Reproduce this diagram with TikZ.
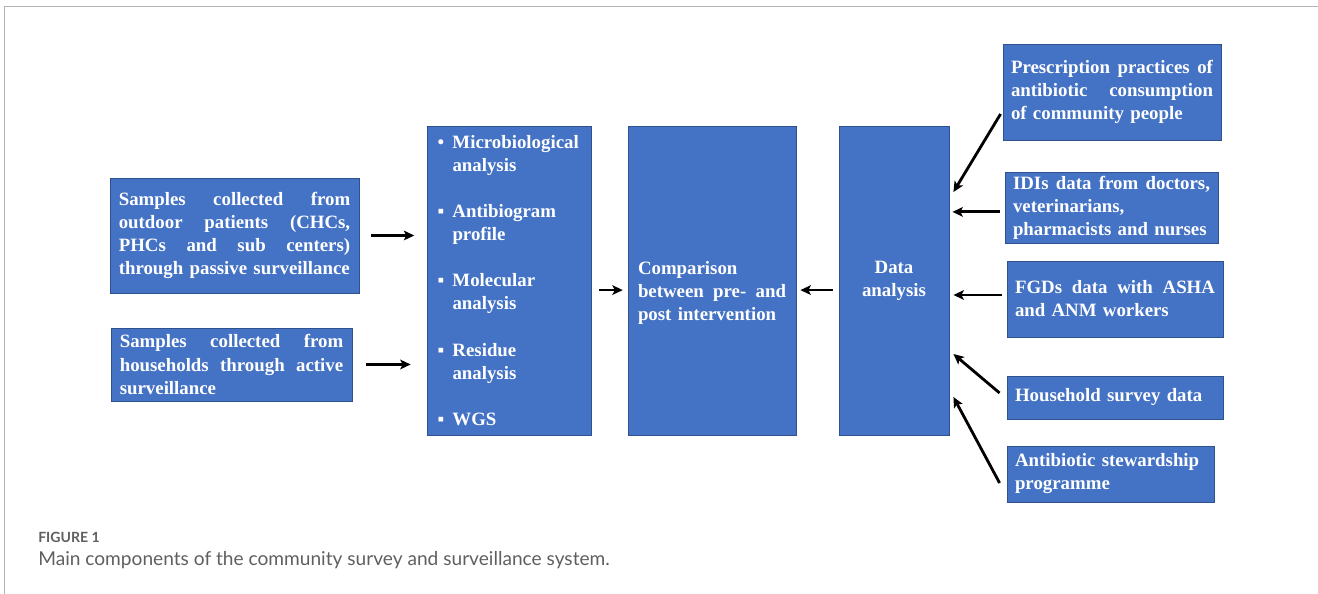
\documentclass[tikz,border=0pt]{standalone}
\usepackage{fontspec}
\setmainfont{Liberation Serif}
\newfontfamily\capfont{Lato}
\usepackage{xcolor}
\usetikzlibrary{arrows.meta}

\definecolor{boxblue}{HTML}{4472C4}
\definecolor{boxedge}{HTML}{2F528F}
\definecolor{capgrey}{HTML}{5F5F5F}
\definecolor{framegrey}{HTML}{B4B4B4}
\newcommand{\boxfont}{\fontsize{13.4}{16.4}\selectfont\bfseries}
\newcommand{\itm}[1]{\makebox[0.375cm][l]{#1}}

\begin{document}
\begin{tikzpicture}[
    >={Stealth[length=2.6mm,width=2.4mm,inset=0.6mm]},
    blk/.style={draw=boxedge, line width=0.6pt, fill=boxblue, text=white,
      font=\boxfont, inner xsep=0.22cm, inner ysep=0pt, align=left},
    arr/.style={->, line width=2pt},
    captxt/.style={anchor=base west, inner sep=0pt, text=capgrey},
  ]
  \useasboundingbox (0,0) rectangle (32.95,14.85);
  \draw[framegrey, line width=1pt] (0.1125,0) -- (0.1125,14.6875) -- (32.95,14.6875);

  %% ---- sample sources --------------------------------------------------
  \node[blk, minimum width=6.225cm, minimum height=2.875cm, text width=5.785cm]
    (pas) at (5.8625,8.9625)
    {Samples \hfill collected \hfill from\\
     outdoor \hfill patients \hfill (CHCs,\\
     PHCs \hfill and \hfill sub \hfill centers)\\
     through passive surveillance};
  \node[blk, minimum width=6.025cm, minimum height=1.825cm, text width=5.585cm]
    (act) at (5.7875,5.7375)
    {Samples \hfill collected \hfill from\\
     households \hfill through \hfill active\\
     surveillance};

  %% ---- laboratory work ---------------------------------------------------
  \node[blk, minimum width=4.075cm, minimum height=7.725cm, text width=3.6cm,
    inner xsep=0.24cm] (lab) at (12.7375,7.8375)
    {\itm{•}Microbiological\\ \hspace*{0.375cm}analysis\\[16.4pt]
     \itm{▪}Antibiogram\\ \hspace*{0.375cm}profile\\[16.4pt]
     \itm{▪}Molecular\\ \hspace*{0.375cm}analysis\\[16.4pt]
     \itm{▪}Residue\\ \hspace*{0.375cm}analysis\\[16.4pt]
     \itm{▪}WGS};

  %% ---- comparison and data analysis --------------------------------------
  \node[blk, minimum width=4.2cm, minimum height=7.725cm, text width=3.7cm,
    inner xsep=0.25cm] (cmp) at (17.8,7.8375)
    {\rule{0pt}{26.6pt}Comparison\\
     between \hfill pre- \hfill and\\
     post intervention};
  \node[blk, minimum width=2.75cm, minimum height=7.725cm, text width=2.25cm,
    align=center] (dat) at (22.35,7.8375) {Data\\analysis};

  %% ---- data inputs -------------------------------------------------------
  \node[blk, minimum width=5.45cm, minimum height=2.4cm, text width=5.05cm,
    inner xsep=0.2cm] (presc) at (27.8,12.55)
    {Prescription \hfill practices \hfill of\\
     antibiotic \hfill consumption\\
     of community people};
  \node[blk, minimum width=5.325cm, minimum height=1.775cm, text width=4.925cm,
    inner xsep=0.2cm] (idi) at (27.7875,9.6625)
    {IDIs \hfill data \hfill from \hfill doctors,\\
     veterinarians,\\
     pharmacists and nurses};
  \node[blk, minimum width=5.4cm, minimum height=1.9cm, text width=5.0cm,
    inner xsep=0.2cm] (fgd) at (27.875,7.375)
    {FGDs \hfill data \hfill with \hfill ASHA\\
     and ANM workers};
  \node[blk, minimum width=5.4cm, minimum height=1.075cm, text width=5.0cm,
    inner xsep=0.2cm] (hh) at (27.875,4.9125) {Household survey data};
  \node[blk, minimum width=5.175cm, minimum height=1.4cm, text width=4.775cm,
    inner xsep=0.2cm] (stew) at (27.7625,3.0)
    {Antibiotic stewardship\\
     programme};

  %% ---- arrows ------------------------------------------------------------
  \draw[arr, shorten <=0.3cm, shorten >=0.33cm] (pas.east) -- (pas.east -| lab.west);
  \draw[arr, shorten <=0.35cm, shorten >=0.42cm] (act.east) -- (act.east -| lab.west);
  \draw[arr, shorten <=0.18cm, shorten >=0.12cm]
    ([yshift=-0.24cm]lab.east) -- ([yshift=-0.24cm]cmp.west);
  \draw[arr, shorten <=0.15cm, shorten >=0.1cm]
    ([yshift=-0.24cm]dat.west) -- ([yshift=-0.24cm]cmp.east);

  \draw[arr] ([shift={(-0.05,-0.55)}]presc.west) -- ([shift={(0.1,2.2125)}]dat.east);
  \draw[arr, shorten <=0.125cm, shorten >=0.075cm]
    ([yshift=-0.11cm]idi.west) -- ([yshift=-0.11cm]idi.west -| dat.east);
  \draw[arr, shorten <=0.125cm, shorten >=0.1cm]
    ([yshift=0.1cm]fgd.west) -- ([yshift=0.1cm]fgd.west -| dat.east);
  \draw[arr] ([shift={(-0.175,0.1125)}]hh.west) -- ([shift={(0.1,-1.8375)}]dat.east);
  \draw[arr] ([shift={(-0.175,-0.225)}]stew.west) -- ([shift={(0.1,-2.9125)}]dat.east);

  %% ---- caption -----------------------------------------------------------
  \node[captxt, font=\capfont\fontsize{10}{12}\selectfont\bfseries] (fig) at (0.95,1.29)
    {FIGURE 1};
  \node[captxt, font=\capfont\fontsize{13.6}{16}\selectfont] (capt) at (0.95,0.70)
    {Main components of the community survey and surveillance system.};
\end{tikzpicture}
\end{document}
